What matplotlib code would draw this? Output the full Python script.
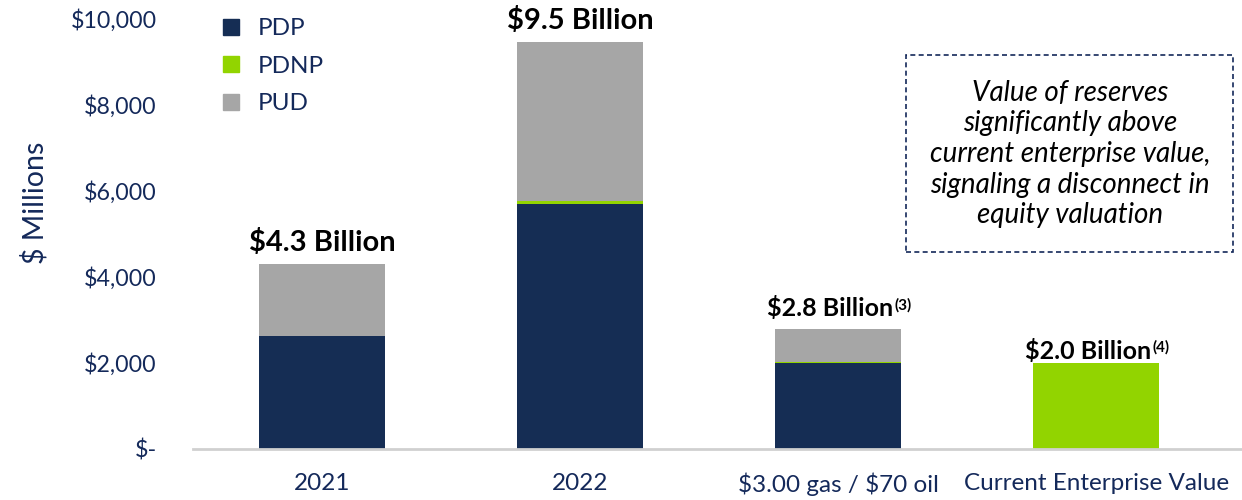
import matplotlib
matplotlib.use("Agg")
import matplotlib.pyplot as plt
from matplotlib.patches import Rectangle
from matplotlib.lines import Line2D

# reserve value by scenario, $ millions
categories = ["2021", "2022", r"\$3.00 gas / \$70 oil", "Current Enterprise Value"]
pdp = [2630, 5700, 2000, 0]
pdnp = [0, 60, 20, 0]
pud = [1670, 3700, 780, 0]
ev = [0, 0, 0, 2000]
totals_text = ["$4.3 Billion", "$9.5 Billion", "$2.8 Billion", "$2.0 Billion"]
footnotes = ["", "", "(3)", "(4)"]
label_sizes = [21, 21, 18, 18]
yticks = [0, 2000, 4000, 6000, 8000, 10000]
ytick_labels = ["$-", "$2,000", "$4,000", "$6,000", "$8,000", "$10,000"]

NAVY = "#152d54"
GREEN = "#92d400"
GREY = "#a6a6a6"
TEXT_NAVY = "#14295a"

plt.rcParams["font.family"] = ["Lato", "DejaVu Sans"]

fig = plt.figure(figsize=(12.42, 5.0), dpi=100)
ax = fig.add_axes([193 / 1242, 51 / 500, 1 - 193 / 1242, 430 / 500])

x = list(range(len(categories)))
w = 0.49
bottom2 = [a + b for a, b in zip(pdp, pdnp)]
ax.bar(x, pdp, w, color=NAVY, zorder=2)
ax.bar(x, pdnp, w, bottom=pdp, color=GREEN, zorder=2)
ax.bar(x, pud, w, bottom=bottom2, color=GREY, zorder=2)
ax.bar(x, ev, w, color=GREEN, zorder=2)

ax.set_xlim(-0.5, 3.565)
ax.set_ylim(0, 10000)

for s in ["top", "right", "left"]:
    ax.spines[s].set_visible(False)
ax.spines["bottom"].set_color("#d0d0d0")
ax.spines["bottom"].set_linewidth(2)

ax.set_yticks(yticks)
ax.set_yticklabels(ytick_labels)
ax.tick_params(axis="y", length=0, pad=26, labelsize=16.7, labelcolor=TEXT_NAVY)
ax.set_xticks(x)
ax.set_xticklabels(categories)
ax.tick_params(axis="x", length=0, pad=17, labelsize=17.5, labelcolor=TEXT_NAVY)

fig.text(35 / 1242, 1 - 203 / 500, "$ Millions", rotation=90, ha="center",
         va="center", fontsize=20.5, color=TEXT_NAVY)

# total labels above each bar
tops = [a + b + c + d for a, b, c, d in zip(pdp, pdnp, pud, ev)]
for i, (tot, txt, fn, fs) in enumerate(zip(tops, totals_text, footnotes, label_sizes)):
    dy = 0 if i == 3 else 6
    t = ax.annotate(txt, (i, tot), xytext=(-6 if fn else 0, dy),
                    textcoords="offset points", ha="center", va="bottom",
                    fontsize=fs, fontweight="bold", color="black")
    if fn:
        ax.annotate(fn, xy=(1, 1), xycoords=t, xytext=(1, -1),
                    textcoords="offset points", ha="left", va="top",
                    fontsize=11, fontweight="bold", color="black")

handles = [Line2D([], [], marker="s", ls="", markersize=12, color=c)
           for c in (NAVY, GREEN, GREY)]
fig.legend(handles, ["PDP", "PDNP", "PUD"], loc="upper left",
           bbox_to_anchor=(207 / 1242, 1 - 6 / 500), frameon=False,
           fontsize=17.5, labelcolor=TEXT_NAVY, handlelength=1.0,
           handletextpad=0.6, labelspacing=0.68, borderpad=0)

# dashed callout box
fig.patches.append(Rectangle((906 / 1242, 1 - 252 / 500), 327 / 1242, 197 / 500,
                             transform=fig.transFigure, fill=False,
                             ec=TEXT_NAVY, lw=1.2, ls=(0, (3, 2))))
fig.text(1070 / 1242, 1 - 154 / 500,
         "Value of reserves\nsignificantly above\ncurrent enterprise value,\n"
         "signaling a disconnect in\nequity valuation",
         ha="center", va="center", fontsize=20, style="italic",
         color="black", linespacing=1.22)

fig.savefig("out.png", dpi=100)
